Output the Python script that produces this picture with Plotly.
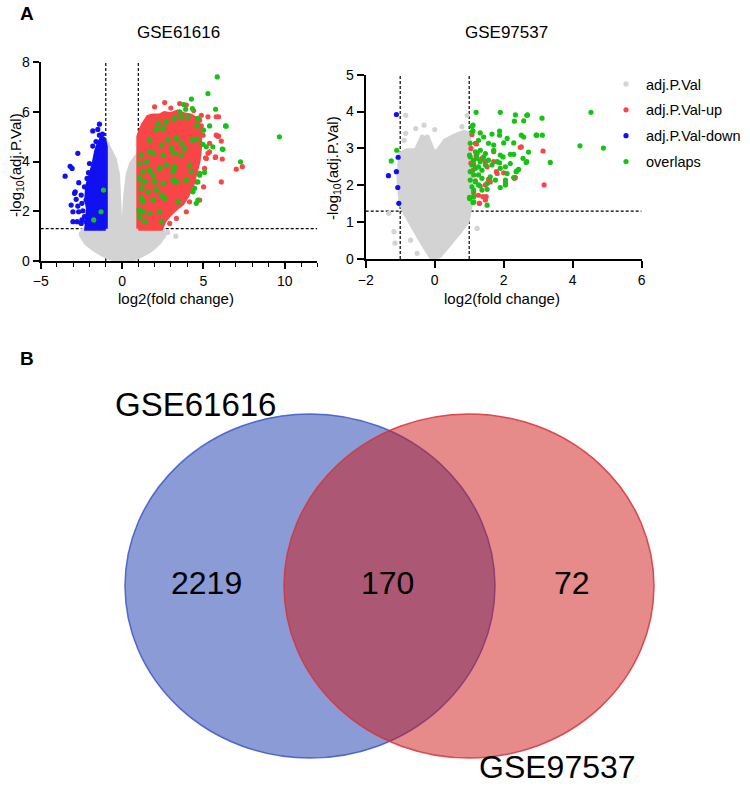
import plotly.graph_objects as go

# ---------------- DATA ----------------
# Panel titles / labels
PANEL_TITLES = ["GSE61616", "GSE97537"]
LEGEND_NAMES = ["adj.P.Val", "adj.P.Val-up", "adj.P.Val-down", "overlaps"]
X_TITLE = "log2(fold change)"
Y_TITLE = "-log<sub>10</sub>(adj.P.Val)"
THRESH_FC = [-1, 1]
THRESH_P = 1.3

# Left panel (GSE61616): dense cloud outlines (x, y)
L_GRAY_CLOUD = [(0, 0.02), (-0.04, 0.6), (-0.08, 1.5), (-0.14, 2.6), (-0.25, 3.5), (-0.45, 4.1),
                (-0.7, 4.45), (-0.95, 4.75), (-1.05, 4.7), (-1.1, 3.0), (-1.2, 1.6), (-1.8, 1.35),
                (-2.4, 1.25), (-2.5, 1.0), (-2.2, 0.7), (-1.7, 0.45), (-1.2, 0.25), (-0.7, 0.1),
                (-0.3, 0.03), (0, 0), (0.3, 0.03), (0.8, 0.1), (1.3, 0.25), (1.8, 0.45), (2.3, 0.75),
                (2.6, 1.05), (2.5, 1.3), (1.5, 1.35), (1.1, 1.6), (1.05, 3.0), (1.0, 4.3), (0.8, 4.15),
                (0.55, 3.9), (0.35, 3.5), (0.2, 2.7), (0.1, 1.6), (0.05, 0.6), (0.0, 0.02)]
L_RED_CLOUD = [(1.0, 1.3), (1.0, 5.0), (1.15, 5.3), (1.3, 5.5), (1.6, 5.8), (1.9, 5.85), (2.3, 5.85),
               (2.6, 5.95), (3.0, 5.9), (3.4, 6.0), (3.8, 5.9), (4.2, 5.85), (4.6, 5.7), (4.8, 5.3),
               (4.8, 4.6), (4.7, 4.0), (4.5, 3.5), (4.3, 3.0), (4.0, 2.6), (3.7, 2.3), (3.3, 2.1),
               (2.9, 1.85), (2.6, 1.6), (2.4, 1.3), (1.0, 1.3)]
L_BLUE_CLOUD = [(-1.0, 1.3), (-1.0, 4.6), (-1.1, 4.9), (-1.25, 4.95), (-1.45, 4.7), (-1.6, 4.4),
                (-1.75, 3.9), (-1.95, 3.4), (-2.15, 3.0), (-2.2, 2.5), (-2.1, 2.1), (-2.15, 1.7),
                (-2.2, 1.3), (-1.0, 1.3)]
# Left panel scattered points
L_GRAY_PTS = [(2.52, 0.98), (1.90, 0.57), (2.11, 0.84), (3.3, 1.0), (-2.5, 1.1), (-2.3, 0.9), (2.8, 1.15)]
L_BLUE_PTS = [(-1.39, 5.5), (-1.49, 5.29), (-1.80, 5.23), (-1.39, 5.06), (-1.80, 4.62), (-2.72, 4.33),
              (-3.19, 3.81), (-3.07, 3.72), (-3.50, 3.41), (-2.0, 3.92), (-2.66, 3.15), (-2.15, 3.32),
              (-2.06, 3.55), (-2.88, 2.78), (-2.92, 2.72), (-2.51, 2.65), (-2.82, 2.48), (-3.13, 2.25),
              (-2.72, 2.21), (-2.47, 2.32), (-2.21, 2.45), (-3.02, 1.98), (-2.67, 1.98), (-2.41, 2.02),
              (-3.02, 1.58), (-2.76, 1.58), (-2.47, 1.65), (-2.51, 1.51), (-2.21, 1.58), (-2.31, 1.78),
              (-2.10, 2.85), (-1.90, 3.25), (-2.31, 2.98), (-2.0, 2.78), (-1.2, 5.1), (-1.6, 4.8)]
L_RED_PTS = [(2.62, 6.37), (3.54, 6.33), (3.95, 6.27), (5.79, 5.80), (5.79, 5.06), (5.38, 4.39),
             (5.18, 4.12), (5.07, 3.72), (4.56, 3.18), (4.15, 2.38), (3.95, 1.98), (3.34, 1.71),
             (2.93, 1.51), (4.87, 5.86), (4.77, 5.66), (5.93, 5.80), (4.87, 5.43), (4.97, 5.06),
             (5.93, 5.02), (6.10, 4.82), (5.38, 4.73), (5.28, 4.33), (5.13, 4.15), (5.73, 4.16),
             (6.16, 4.10), (7.39, 3.79), (7.02, 3.69), (6.10, 3.18), (5.01, 2.98), (4.77, 2.45),
             (5.89, 5.02), (5.75, 4.19), (4.73, 5.19), (5.28, 5.80), (2.0, 6.2), (3.0, 6.15), (4.4, 6.05)]
L_GREEN_PTS = [(5.85, 7.40), (5.28, 6.73), (5.75, 6.10), (5.38, 5.43), (6.36, 5.43), (5.01, 5.26),
               (4.97, 4.69), (5.18, 4.59), (6.20, 4.49), (7.28, 3.99), (9.67, 4.99), (5.07, 3.56),
               (4.77, 3.45), (4.26, 6.51), (4.32, 6.13), (3.79, 6.29), (3.91, 6.10), (3.54, 6.0),
               (3.64, 5.80), (4.05, 5.80), (3.23, 5.73), (2.72, 5.59), (2.21, 5.53), (4.66, 5.73),
               (4.60, 5.43), (2.52, 5.33), (2.11, 5.30), (1.70, 4.86), (2.82, 4.86), (3.34, 4.93),
               (3.64, 4.73), (4.32, 4.86), (4.60, 4.90), (3.85, 4.53), (3.64, 4.26), (3.23, 4.33),
               (3.03, 4.53), (2.42, 4.66), (2.52, 4.26), (1.70, 4.39), (1.90, 4.33), (1.19, 4.26),
               (1.09, 3.92), (1.50, 3.99), (2.31, 3.72), (2.72, 3.86), (3.23, 3.79), (3.13, 3.59),
               (4.15, 3.86), (4.26, 3.59), (1.29, 3.59), (1.70, 3.65), (1.90, 3.45), (1.09, 3.32),
               (1.39, 3.18), (2.0, 3.18), (2.52, 3.12), (3.13, 3.25), (3.34, 3.18), (3.95, 3.25),
               (4.46, 2.92), (4.36, 2.78), (1.19, 2.92), (1.60, 2.78), (2.11, 2.85), (2.42, 2.65),
               (1.19, 2.52), (1.29, 2.38), (1.90, 2.45), (2.62, 2.52), (3.44, 2.38), (4.66, 2.45),
               (4.56, 2.32), (1.05, 2.05), (1.29, 1.98), (1.09, 1.78), (1.39, 1.58), (1.70, 1.92),
               (2.31, 1.98), (2.42, 1.58), (4.66, 3.18), (4.77, 3.52), (6.40, 5.42), (6.16, 4.50),
               (5.58, 4.59), (-1.14, 2.85), (-1.29, 1.98), (-1.74, 1.65)]

# Right panel (GSE97537)
R_GRAY_CLOUD = [(0, 0), (-0.12, 0.06), (-0.41, 0.5), (-0.7, 0.97), (-0.9, 1.3), (-1.0, 1.6),
                (-1.05, 2.2), (-1.0, 2.86), (-0.8, 2.95), (-0.55, 2.95), (-0.4, 3.25), (-0.2, 3.3),
                (-0.05, 2.95), (0.05, 2.9), (0.3, 3.22), (0.6, 3.36), (0.85, 3.45), (1.0, 3.4),
                (1.05, 2.5), (1.05, 1.5), (0.95, 1.0), (0.7, 0.7), (0.4, 0.35), (0.15, 0.08), (0, 0)]
R_GRAY_PTS = [(-0.84, 3.90), (-0.31, 3.63), (0, 3.51), (-0.55, 3.54), (-0.84, 3.41), (-0.89, 3.22),
              (-1.33, 1.24), (-1.18, 0.74), (-1.15, 0.43), (-0.51, 0.15), (-0.70, 0.51), (0.94, 3.90),
              (0.79, 3.59), (1.23, 0.83), (0.65, 0.88), (-0.36, 3.31), (-0.22, 3.31)]
R_BLUE_PTS = [(-1.11, 3.92), (-1.06, 2.76), (-1.11, 2.37), (-1.34, 2.26), (-1.07, 1.94), (-1.04, 1.51)]
R_RED_PTS = [(1.08, 3.38), (1.18, 3.14), (2.51, 3.04), (3.14, 2.93), (1.71, 2.91), (1.37, 2.73),
             (1.47, 2.64), (1.71, 2.64), (1.52, 2.50), (1.79, 2.37), (2.0, 2.34), (2.34, 2.21),
             (1.59, 2.16), (2.05, 2.07), (1.47, 2.01), (1.32, 1.98), (1.18, 2.12), (1.27, 1.73),
             (1.40, 1.69), (1.13, 1.80), (1.47, 1.60), (1.29, 1.51), (3.17, 2.01), (1.13, 2.57),
             (2.48, 3.03), (2.31, 2.19), (1.49, 1.69), (1.30, 1.51), (1.21, 3.12), (1.61, 2.09),
             (1.81, 2.32), (1.56, 2.16), (1.05, 2.6), (1.1, 2.4), (1.2, 2.8), (1.05, 3.0)]
R_GREEN_PTS = [(1.20, 3.98), (1.90, 3.98), (2.34, 3.91), (2.31, 3.74), (2.69, 3.91), (3.11, 3.82),
               (4.53, 3.98), (4.21, 3.07), (4.89, 3.01), (3.35, 2.62), (2.96, 3.36), (3.12, 3.36),
               (2.72, 2.90), (2.56, 2.73), (2.67, 2.64), (2.29, 2.84), (2.19, 2.84), (2.51, 3.36),
               (2.58, 3.31), (2.29, 3.15), (2.10, 3.27), (2.0, 3.15), (1.88, 3.36), (1.88, 3.47),
               (1.66, 3.39), (1.71, 3.09), (1.56, 3.14), (1.32, 3.42), (1.42, 3.31), (1.27, 3.22),
               (1.11, 3.63), (1.11, 3.48), (1.03, 3.14), (1.01, 2.82), (1.18, 2.91), (1.47, 2.86),
               (1.71, 2.95), (1.90, 2.82), (1.98, 2.77), (1.88, 2.61), (2.19, 2.59), (2.05, 2.50),
               (1.81, 2.64), (1.66, 2.55), (1.90, 2.46), (2.43, 2.43), (2.36, 2.37), (2.10, 2.32),
               (2.05, 2.14), (2.29, 2.21), (2.05, 2.01), (1.90, 1.94), (1.61, 2.23), (1.76, 2.14),
               (1.52, 2.05), (1.52, 1.89), (1.37, 1.87), (1.13, 1.87), (1.13, 1.69), (1.01, 1.64),
               (1.52, 1.46), (1.11, 1.53), (1.03, 2.77), (1.13, 2.68), (1.23, 2.73), (1.32, 2.64),
               (1.08, 2.55), (1.18, 2.46), (1.27, 2.50), (1.37, 2.41), (1.47, 2.55), (1.03, 2.37),
               (1.13, 2.28), (1.27, 2.28), (1.37, 2.19), (1.03, 2.14), (1.18, 2.09), (1.27, 2.01),
               (1.08, 1.96), (1.42, 2.77), (1.56, 2.68), (1.23, 2.86), (1.32, 2.95), (1.08, 3.60),
               (1.08, 3.45), (2.67, 3.90), (2.58, 3.75), (2.94, 3.36), (2.65, 2.62), (2.38, 2.39),
               (1.13, 1.55), (1.01, 1.67), (-1.10, 2.95), (-1.26, 2.66)]

# Venn diagram
VENN_SETS = ["GSE61616", "GSE97537"]
VENN_COUNTS = [2219, 170, 72]   # only-left, both, only-right

# ---------------- STYLE ----------------
FONT = "Arial, Liberation Sans, Helvetica, sans-serif"
C_GRAY = "#D3D3D3"
C_RED = "#F84646"
C_BLUE = "#1010F0"
C_GREEN = "#14C314"
MS = 5.2
W, H = 750, 788          # picture size (page body margin removed below)


def px2paper_x(px):
    return px / W


def px2paper_y(py):
    return 1 - py / H


def xs(pts):
    return [p[0] for p in pts]


def ys(pts):
    return [p[1] for p in pts]


fig = go.Figure()


def cloud(pts, color, xa, ya):
    fig.add_trace(go.Scatter(x=xs(pts), y=ys(pts), mode="lines", fill="toself",
                             fillcolor=color, line=dict(color=color, width=4),
                             xaxis=xa, yaxis=ya, showlegend=False, hoverinfo="skip"))


def pts_trace(pts, color, name, xa, ya, show):
    fig.add_trace(go.Scatter(x=xs(pts), y=ys(pts), mode="markers", name=name,
                             marker=dict(color=color, size=MS, line=dict(width=0)),
                             xaxis=xa, yaxis=ya, showlegend=show, legendgroup=name,
                             cliponaxis=False))


# left panel
cloud(L_GRAY_CLOUD, C_GRAY, "x", "y")
pts_trace(L_GRAY_PTS, C_GRAY, LEGEND_NAMES[0], "x", "y", True)
cloud(L_RED_CLOUD, C_RED, "x", "y")
pts_trace(L_RED_PTS, C_RED, LEGEND_NAMES[1], "x", "y", True)
cloud(L_BLUE_CLOUD, C_BLUE, "x", "y")
pts_trace(L_BLUE_PTS, C_BLUE, LEGEND_NAMES[2], "x", "y", True)
pts_trace(L_GREEN_PTS, C_GREEN, LEGEND_NAMES[3], "x", "y", True)
# right panel
cloud(R_GRAY_CLOUD, C_GRAY, "x2", "y2")
pts_trace(R_GRAY_PTS, C_GRAY, LEGEND_NAMES[0], "x2", "y2", False)
pts_trace(R_RED_PTS, C_RED, LEGEND_NAMES[1], "x2", "y2", False)
pts_trace(R_BLUE_PTS, C_BLUE, LEGEND_NAMES[2], "x2", "y2", False)
pts_trace(R_GREEN_PTS, C_GREEN, LEGEND_NAMES[3], "x2", "y2", False)

# axes geometry (pixels in picture)
L_X = (40.7, 317.3); L_Y = (62, 261)
R_X = (365.7, 641.7); R_Y = (74.7, 259)

axis_common = dict(showline=True, linecolor="black", linewidth=2, showgrid=False, zeroline=False,
                   ticks="outside", tickcolor="black", tickwidth=1.6, automargin=False,
                   tickfont=dict(family=FONT, size=14, color="black"), mirror=False)

fig.update_layout(
    xaxis=dict(domain=[px2paper_x(L_X[0]), px2paper_x(L_X[1])], range=[-5, 12],
               tickmode="linear", tick0=0, dtick=5, ticklen=6,
               minor=dict(tickmode="linear", tick0=0, dtick=1, ticks="outside", ticklen=4,
                          tickcolor="black", tickwidth=1.4),
               anchor="y", **axis_common),
    yaxis=dict(domain=[px2paper_y(L_Y[1]), px2paper_y(L_Y[0])], range=[0, 8],
               tickvals=[0, 2, 4, 6, 8], ticklen=6, anchor="x", **axis_common),
    xaxis2=dict(domain=[px2paper_x(R_X[0]), px2paper_x(R_X[1])], range=[-2, 6],
                tickvals=[-2, 0, 2, 4, 6], ticklen=7, anchor="y2", **axis_common),
    yaxis2=dict(domain=[px2paper_y(R_Y[1]), px2paper_y(R_Y[0])], range=[0, 5],
                tickvals=[0, 1, 2, 3, 4, 5], ticklen=7, anchor="x2", **axis_common),
    xaxis3=dict(domain=[0, 1], range=[0, W], visible=False, anchor="y3", automargin=False),
    yaxis3=dict(domain=[0, px2paper_y(340)], range=[H, 340], visible=False, anchor="x3", automargin=False),
)

# threshold lines
shapes = []
dash = dict(color="black", width=1.2, dash="3px,2px")
for xr, yr, xrng, yrng in [("x", "y", (-5, 12), (0, 8)), ("x2", "y2", (-2, 6), (0, 5))]:
    shapes.append(dict(type="line", xref=xr, yref=yr, x0=xrng[0], x1=xrng[1], y0=THRESH_P, y1=THRESH_P,
                       line=dash, layer="below"))
    for fc in THRESH_FC:
        shapes.append(dict(type="line", xref=xr, yref=yr, x0=fc, x1=fc, y0=yrng[0], y1=yrng[1],
                           line=dash, layer="below"))

# Venn ellipses (pixel geometry on hidden axis)
VENN_CY = 586
VENN_RX, VENN_RY = 185, 172
VENN_CX = [310, 469]
shapes.append(dict(type="circle", xref="x3", yref="y3",
                   x0=VENN_CX[0] - VENN_RX, x1=VENN_CX[0] + VENN_RX,
                   y0=VENN_CY - VENN_RY, y1=VENN_CY + VENN_RY,
                   fillcolor="rgba(21,55,171,0.5)", line=dict(color="rgba(60,85,200,0.85)", width=1.5)))
shapes.append(dict(type="circle", xref="x3", yref="y3",
                   x0=VENN_CX[1] - VENN_RX, x1=VENN_CX[1] + VENN_RX,
                   y0=VENN_CY - VENN_RY, y1=VENN_CY + VENN_RY,
                   fillcolor="rgba(205,21,21,0.5)", line=dict(color="rgba(215,50,60,0.85)", width=1.5)))
fig.update_layout(shapes=shapes)

ann = []


def label(text, px, py, size, angle=0):
    ann.append(dict(text=text, x=px2paper_x(px), y=px2paper_y(py), xref="paper", yref="paper",
                    xanchor="center", yanchor="middle", textangle=angle, showarrow=False,
                    font=dict(family=FONT, size=size, color="black")))


label("<b>A</b>", 27, 14, 19)
label("<b>B</b>", 27, 358, 19)
label(PANEL_TITLES[0], 178.5, 32, 17)
label(PANEL_TITLES[1], 506.7, 32, 17)
label(X_TITLE, 176, 298, 15)
label(X_TITLE, 502, 298, 15)
label(Y_TITLE, 16, 165, 15, -90)
label(Y_TITLE, 334, 168, 15, -90)

# Venn texts
VENN_NUM_X = [206, 387, 572]
for cnt, vx in zip(VENN_COUNTS, VENN_NUM_X):
    ann.append(dict(text=str(cnt), x=vx, y=583, xref="x3", yref="y3", showarrow=False,
                    xanchor="center", yanchor="middle",
                    font=dict(family=FONT, size=32, color="black")))
ann.append(dict(text=VENN_SETS[0], x=195, y=404, xref="x3", yref="y3", showarrow=False,
                xanchor="center", yanchor="middle", font=dict(family=FONT, size=33, color="black")))
ann.append(dict(text=VENN_SETS[1], x=557, y=767, xref="x3", yref="y3", showarrow=False,
                xanchor="center", yanchor="middle", font=dict(family=FONT, size=32, color="black")))
fig.update_layout(annotations=ann)

fig.update_layout(
    width=W, height=H, margin=dict(l=0, r=0, t=0, b=0, autoexpand=False),
    paper_bgcolor="white", plot_bgcolor="white",
    font=dict(family=FONT, color="black"),
    showlegend=True,
    legend=dict(x=px2paper_x(606), y=px2paper_y(68), xanchor="left", yanchor="top",
                font=dict(family=FONT, size=14.5, color="black"), bgcolor="rgba(0,0,0,0)",
                traceorder="grouped", tracegroupgap=4, itemsizing="trace"),
)

fig.write_html("out.html", config={"displayModeBar": False},
               post_script="document.body.style.margin='0px';"
                           "document.body.style.overflow='hidden';")
